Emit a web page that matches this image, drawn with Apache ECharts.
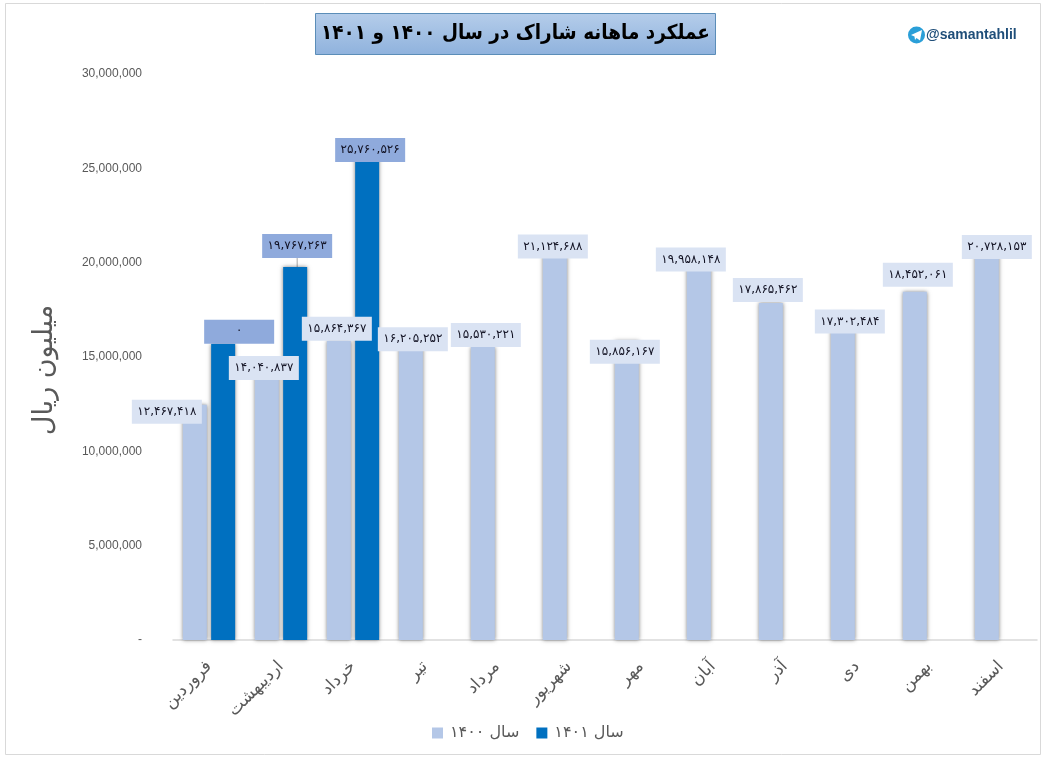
<!DOCTYPE html>
<html>
<head>
<meta charset="utf-8">
<style>
  html, body { margin: 0; padding: 0; background: #fff; }
  #chart { width: 1048px; height: 758px; }
</style>
</head>
<body>
<div id="chart"></div>
<script src="https://cdn.jsdelivr.net/npm/echarts@6/dist/echarts.min.js"></script>
<script>
const months = ["فروردین", "اردیبهشت", "خرداد", "تیر", "مرداد", "شهریور", "مهر", "آبان", "آذر", "دی", "بهمن", "اسفند"];
const sales1400 = [12467418, 14040837, 15864367, 16205252, 15530221, 21124688, 15856167, 19958148, 17865462, 17302484, 18452061, 20728153];
const sales1401 = [15700000, 19767263, 25760526];
// the first 1401 label is blank in the picture, only a dot
const labels1400 = ["۱۲,۴۶۷,۴۱۸", "۱۴,۰۴۰,۸۳۷", "۱۵,۸۶۴,۳۶۷", "۱۶,۲۰۵,۲۵۲", "۱۵,۵۳۰,۲۲۱", "۲۱,۱۲۴,۶۸۸", "۱۵,۸۵۶,۱۶۷", "۱۹,۹۵۸,۱۴۸", "۱۷,۸۶۵,۴۶۲", "۱۷,۳۰۲,۴۸۴", "۱۸,۴۵۲,۰۶۱", "۲۰,۷۲۸,۱۵۳"];
const labels1401 = ["·", "۱۹,۷۶۷,۲۶۳", "۲۵,۷۶۰,۵۲۶"];
const seriesNames = ["سال ۱۴۰۰", "سال ۱۴۰۱"];
// hand moved data labels [dx, dy]
const moved1400 = [[-28, 19], [-3, 5], [-2, 0], [2, 17], [3, 0], [-2, 17], [-2, 23], [-8, 8], [-3, -1], [7, 20], [3, -5], [10, 10]];
const moved1401 = [[16, 0], [2, -9], [3, 8]];

const fa = "'DejaVu Sans', sans-serif";
const dom = document.getElementById("chart");
const chart = echarts.init(dom, null, { renderer: "canvas" });

function barLabel(bg) {
  return {
    show: true,
    position: "top",
    distance: 0,
    width: 70,
    height: 24,
    lineHeight: 24,
    align: "center",
    backgroundColor: bg,
    color: "#111122",
    fontFamily: fa,
    fontSize: 12
  };
}

const option = {
  animation: false,
  backgroundColor: "#fff",
  textStyle: { fontFamily: fa },
  color: ["#b4c7e7", "#0070c0"],
  grid: { left: 173, right: 11, top: 74, bottom: 118 },
  legend: {
    left: 427,
    top: 720,
    icon: "rect",
    itemWidth: 11,
    itemHeight: 11,
    itemGap: 17,
    data: seriesNames,
    textStyle: { color: "#595959", fontSize: 16, fontFamily: fa, padding: [0, 0, 0, 2] }
  },
  xAxis: {
    type: "category",
    data: months,
    axisTick: { show: false },
    axisLine: { lineStyle: { color: "#d9d9d9", width: 1.5 } },
    axisLabel: { rotate: 45, interval: 0, margin: 24, color: "#595959", fontSize: 17, fontFamily: fa }
  },
  yAxis: {
    type: "value",
    min: 0,
    max: 30000000,
    interval: 5000000,
    name: "میلیون ریال",
    nameLocation: "middle",
    nameGap: 115,
    nameRotate: 90,
    nameTextStyle: { color: "#595959", fontSize: 27, fontFamily: fa, padding: [0, 26, 0, 0] },
    splitLine: { show: false },
    axisLine: { show: false },
    axisTick: { show: false },
    axisLabel: {
      margin: 31,
      color: "#595959",
      fontSize: 12,
      fontFamily: "'Liberation Sans', Arial, sans-serif",
      formatter: (v) => (v === 0 ? "-" : v.toLocaleString("en-US"))
    }
  },
  series: [
    {
      name: seriesNames[0],
      type: "bar",
      barWidth: 24,
      barGap: "18%",
      data: sales1400,
      itemStyle: { color: "#b4c7e7", shadowColor: "rgba(0,0,0,0.5)", shadowBlur: 4 },
      label: { ...barLabel("#dae3f3"), formatter: (p) => labels1400[p.dataIndex] },
      labelLayout: (p) => ({ dx: moved1400[p.dataIndex][0], dy: moved1400[p.dataIndex][1] })
    },
    {
      name: seriesNames[1],
      type: "bar",
      barWidth: 24,
      data: sales1401.map((v, i) => (i === 1 ? { value: v, labelLine: { show: true } } : v)),
      itemStyle: { color: "#0070c0", shadowColor: "rgba(0,0,0,0.5)", shadowBlur: 4 },
      label: { ...barLabel("#8faadc"), formatter: (p) => labels1401[p.dataIndex] },
      labelLine: { show: false, lineStyle: { color: "#a6a6a6", width: 1 } },
      labelLayout: (p) => ({ dx: moved1401[p.dataIndex][0], dy: moved1401[p.dataIndex][1] })
    }
  ],
  graphic: [
    {
      type: "rect",
      silent: true,
      shape: { x: 5.5, y: 3.5, width: 1035, height: 751 },
      style: { fill: "none", stroke: "#d9d9d9", lineWidth: 1 }
    },
    {
      type: "rect",
      silent: true,
      shape: { x: 315.5, y: 13.5, width: 400, height: 41 },
      style: {
        stroke: "#5b8db8",
        lineWidth: 1,
        fill: new echarts.graphic.LinearGradient(0, 0, 0, 1, [
          { offset: 0, color: "#b5cdea" },
          { offset: 1, color: "#8fb2dd" }
        ])
      }
    },
    {
      type: "text",
      silent: true,
      x: 515.5,
      y: 34,
      style: {
        text: "عملکرد ماهانه شاراک در سال ۱۴۰۰ و ۱۴۰۱",
        fill: "#000",
        font: "bold 20.5px 'DejaVu Sans Condensed', 'DejaVu Sans', sans-serif",
        align: "center",
        verticalAlign: "middle"
      }
    },
    {
      type: "circle",
      silent: true,
      shape: { cx: 916.5, cy: 35, r: 8.5 },
      style: { fill: "#2a9fd8" }
    },
    {
      type: "polygon",
      silent: true,
      shape: { points: [[911, 35], [922, 30], [920, 40.5], [916.5, 38], [915, 40], [914.5, 36.5]] },
      style: { fill: "#fff" }
    },
    {
      type: "text",
      silent: true,
      x: 926,
      y: 35,
      style: {
        text: "@samantahlil",
        fill: "#1f4e79",
        font: "bold 14px 'Liberation Sans', Arial, sans-serif",
        align: "left",
        verticalAlign: "middle"
      }
    }
  ]
};

chart.setOption(option);
window.addEventListener("resize", () => chart.resize());
</script>
</body>
</html>
